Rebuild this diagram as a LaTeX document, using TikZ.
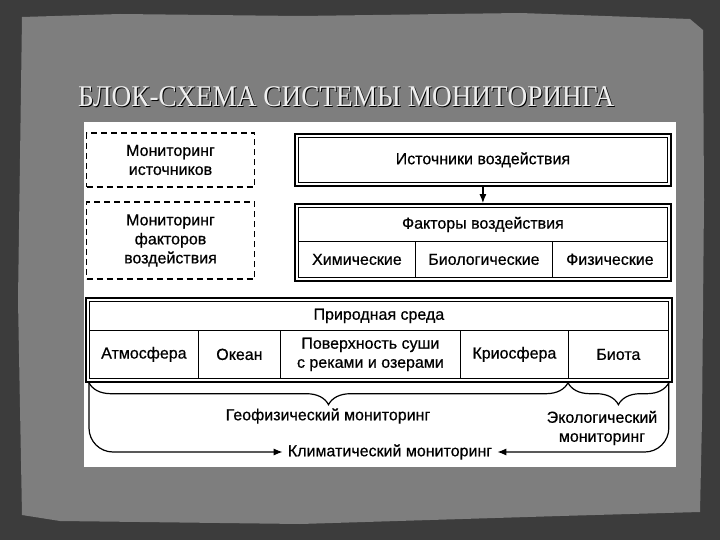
\documentclass[tikz,border=0pt]{standalone}
\usepackage{fontspec}
\setmainfont{Liberation Sans}[FakeBold=0.6]
\newfontfamily\titlefont{Liberation Serif}
\usetikzlibrary{arrows.meta,fit,decorations.pathreplacing}
\definecolor{slidebg}{HTML}{3C3C3C}
\definecolor{slidepanel}{HTML}{7E7E7E}
\definecolor{titlefg}{HTML}{EEEEEE}
\begin{document}
\begin{tikzpicture}[x=1pt,y=-1pt,
	txt/.style={font=\fontsize{16}{19}\selectfont, align=center, inner sep=0pt},
	cell/.style={txt, draw, line width=0.8pt, anchor=north west},
	frame/.style={draw, line width=1.8pt, inner sep=3pt},
	dashbox/.style={txt, draw, line width=1.6pt, dash pattern=on 6pt off 4pt},
	arr/.style={line width=1.2pt, -{Latex[length=9pt,width=7pt]}},
	brc/.style={line width=1.2pt, decorate, decoration={brace, amplitude=22pt, mirror}},
	heading/.style={anchor=base west, font=\titlefont\fontsize{30}{30}\selectfont, inner sep=0pt}]
	% slide
	\useasboundingbox (0,0) rectangle (720,540);
	\fill[slidebg] (0,0) rectangle (720,540);
	\fill[slidepanel] (22,17) -- (120,14) -- (300,16) -- (520,13) -- (690,19) -- (703,30)
		-- (704,200) -- (702,420) -- (700,512) -- (560,516) -- (300,524) -- (60,521)
		-- (22,515) -- (18,300) -- cycle;
	\node[heading, text=black] at (79,108) {\scalebox{0.91}[1]{БЛОК-СХЕМА СИСТЕМЫ МОНИТОРИНГА}};
	\node[heading, text=titlefg] (title) at (78,107) {\scalebox{0.91}[1]{БЛОК-СХЕМА СИСТЕМЫ МОНИТОРИНГА}};
	\fill[white] (84,122) rectangle (676,467);
	% monitoring of sources and factors
	\node[dashbox, minimum width=168, minimum height=54] (msrc) at (170.5,160) {Мониторинг\\источников};
	\node[dashbox, minimum width=168, minimum height=77] (mfac) at (170.5,240.5) {Мониторинг\\факторов\\воздействия};
	% sources
	\node[cell, minimum width=369, minimum height=45] (src) at (298,137) {Источники воздействия};
	\node[frame, fit=(src)] (srcfrm) {};
	% factors
	\node[cell, minimum width=369, minimum height=34] (fach) at (298,207) {Факторы воздействия};
	\node[cell, minimum width=117, minimum height=36] (chem) at (298,241) {Химические};
	\node[cell, minimum width=137, minimum height=36] (bio) at (415,241) {Биологические};
	\node[cell, minimum width=115, minimum height=36] (phys) at (552,241) {Физические};
	\node[frame, fit=(fach)(chem)(phys)] (facfrm) {};
	\draw[arr] (srcfrm) -- (facfrm);
	% environment
	\node[cell, minimum width=579, minimum height=29] (env) at (89,301) {Природная среда};
	\node[cell, minimum width=109, minimum height=48] (atm) at (89,330) {Атмосфера};
	\node[cell, minimum width=82, minimum height=48] (ocean) at (198,330) {Океан};
	\node[cell, minimum width=180, minimum height=48] (land) at (280,330) {Поверхность суши\\с реками и озерами};
	\node[cell, minimum width=108, minimum height=48] (cryo) at (460,330) {Криосфера};
	\node[cell, minimum width=100, minimum height=48] (biota) at (568,330) {Биота};
	\node[frame, fit=(env)(atm)(biota)] (envfrm) {};
	% monitoring types
	\draw[brc] (atm.south west |- envfrm.south) -- (biota.south west |- envfrm.south);
	\draw[brc] (biota.south west |- envfrm.south) -- (biota.south east |- envfrm.south);
	\node[txt] (geo) at (328,416) {Геофизический мониторинг};
	\node[txt] (eco) at (602,428) {Экологический\\мониторинг};
	\node[txt] (clim) at (390,452) {Климатический мониторинг};
	\draw[arr, rounded corners=24] (atm.south west |- envfrm.south) |- ([xshift=-5pt]clim.west);
	\draw[arr, rounded corners=24] (biota.south east |- envfrm.south) |- ([xshift=5pt]clim.east);
\end{tikzpicture}
\end{document}
